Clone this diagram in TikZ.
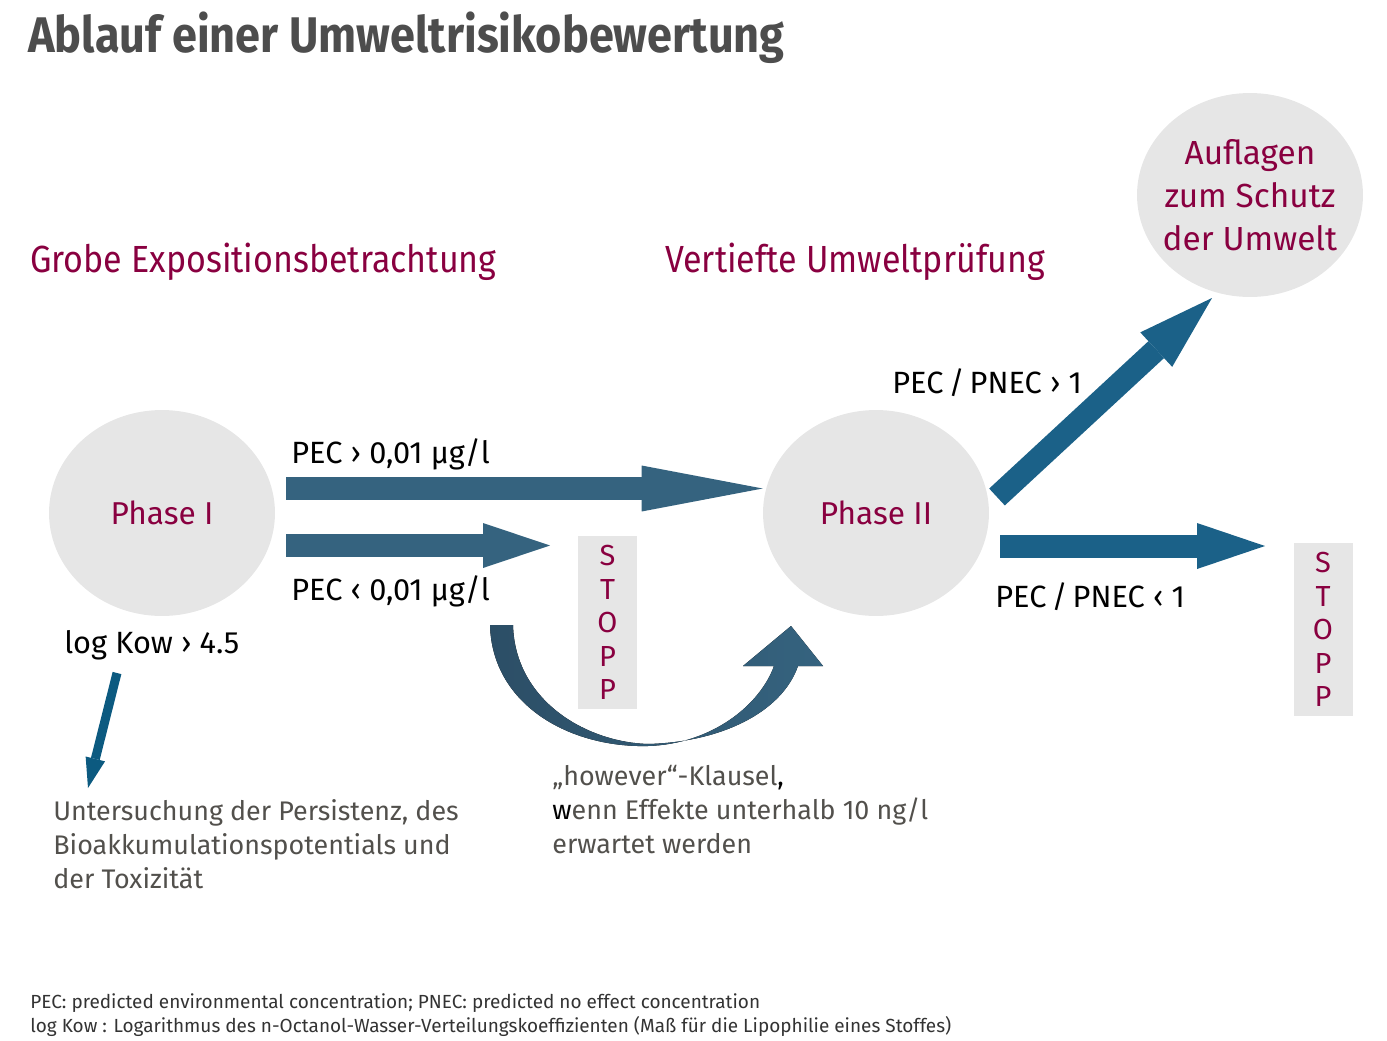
\documentclass[tikz,border=0pt]{standalone}
\usepackage{fontspec}
\setmainfont{Fira Sans}
\newfontfamily\titelfont{Fira Sans}[FakeStretch=0.9]
\newfontfamily\kopffont{Fira Sans}[FakeStretch=0.9]
\usetikzlibrary{arrows.meta,shapes.geometric}

\definecolor{umwrot}{RGB}{137,0,64}
\definecolor{kreisgrau}{RGB}{230,230,230}
\definecolor{titelgrau}{RGB}{77,77,77}
\definecolor{textgrau}{RGB}{82,80,76}
\definecolor{pfeilblau}{RGB}{53,99,127}
\definecolor{pfeildunkel}{RGB}{44,78,102}
\definecolor{phaseblau}{RGB}{27,97,136}
\definecolor{kowblau}{RGB}{12,90,128}

\tikzset{
	kreis/.style={ellipse,fill=kreisgrau,minimum width=4.52cm,minimum height=4.12cm,inner sep=0pt,text=umwrot,font=\fontsize{18}{22}\selectfont},
	stopp/.style={rectangle,fill=kreisgrau,minimum width=1.18cm,minimum height=3.46cm,inner sep=0pt,text=umwrot,align=center,font=\fontsize{16.5}{19}\selectfont},
	kopf/.style={anchor=base west,inner sep=0pt,text=umwrot,font=\kopffont\fontsize{21.5}{26}\selectfont},
	beschriftung/.style={anchor=base west,inner sep=0pt,font=\fontsize{17.5}{20}\selectfont},
	erklaerung/.style={anchor=north west,inner sep=0pt,align=left,text=textgrau,font=\fontsize{15.3}{19.3}\selectfont},
	pfeil/.style={line width=0.46cm,draw=pfeilblau},
}

\begin{document}
\begin{tikzpicture}[x=0.02cm,y=-0.02cm]
	\useasboundingbox (0,0) rectangle (1387,1041);
	
	\node[anchor=base west,inner sep=0pt,text=titelgrau,font=\titelfont\bfseries\fontsize{28.5}{32}\selectfont] (titel) at (28,52) {Ablauf einer Umweltrisikobewertung};
	\node[kopf] (grob) at (30,272) {Grobe Expositionsbetrachtung};
	\node[kopf] (vertieft) at (665,272) {Vertiefte Umweltprüfung};
	
	\node[kreis] (phase1) at (162,513) {Phase I};
	\node[kreis] (phase2) at (876,513) {Phase II};
	\node[kreis,minimum height=4.08cm,inner sep=-0.2cm,align=center,font=\fontsize{19}{24.4}\selectfont] (auflagen) at (1250,195) {Auflagen\\zum Schutz\\der Umwelt};
	\node[stopp] (stopp1) at (607.5,622.5) {S\\T\\O\\P\\P};
	\node[stopp] (stopp2) at (1323,629.5) {S\\T\\O\\P\\P};
	
	\node[beschriftung] (pecgross) at (291,463) {PEC › 0,01 µg/l};
	\node[beschriftung] (pecklein) at (291,600) {PEC ‹ 0,01 µg/l};
	\node[beschriftung] (pnecgross) at (892,393) {PEC\,/\,PNEC › 1};
	\node[beschriftung] (pnecklein) at (995,607) {PEC\,/\,PNEC ‹ 1};
	\node[beschriftung] (kow) at (64,653) {log Kow › 4.5};
	
	\node[erklaerung] (untersuchung) at (53,799) {Untersuchung der Persistenz, des\\Bioakkumulationspotentials und\\der Toxizität};
	\node[erklaerung] (however) at (552,765) {„however“-Klausel{\color{black},}\\{\color{black}w}enn Effekte unterhalb 10 ng/l\\erwartet werden};
	
	\node[anchor=north west,inner sep=0pt,align=left,text=black!80,font=\fontsize{10.8}{13.6}\selectfont] (fussnote) at (30,993) {PEC: predicted environmental concentration; PNEC: predicted no effect concentration\\log Kow : Logarithmus des n-Octanol-Wasser-Verteilungskoeffizienten (Maß für die Lipophilie eines Stoffes)};
	
	% Pfeile Phase I
	\coordinate (a1) at (286,488.5);
	\coordinate (a2) at (286,545.5);
	\coordinate (a2e) at (550,545.5);
	\draw[pfeil,-{Triangle[length=2.42cm,width=0.92cm,line width=0pt]}] (a1) -- (phase2.west |- a1);
	\draw[pfeil,-{Triangle[length=1.34cm,width=0.9cm,line width=0pt]}] (a2) -- (a2e);
	
	% however-Bogen
	\fill[left color=pfeildunkel,right color=pfeilblau]
		(490,625) .. controls (492,705) and (570,748) .. (648,746)
		.. controls (712,744) and (760,705) .. (774,666)
		-- (743,666) -- (791,626) -- (823,666) -- (798,666)
		.. controls (782,712) and (722,742) .. (648,744)
		.. controls (585,742) and (515,700) .. (513,625) -- cycle;
	
	% Pfeile Phase II
	\coordinate (b1) at (997,497);
	\coordinate (b1e) at (1212,298);
	\coordinate (b2) at (1000,546);
	\coordinate (b2e) at (1265,546);
	\draw[pfeil,draw=phaseblau,-{Triangle[length=1.52cm,width=0.94cm,line width=0pt]}] (b1) -- (b1e);
	\draw[pfeil,draw=phaseblau,-{Triangle[length=1.36cm,width=0.92cm,line width=0pt]}] (b2) -- (b2e);
	
	% log Kow
	\coordinate (k1) at (117,673);
	\coordinate (k1e) at (88,788);
	\draw[line width=0.18cm,draw=kowblau,-{Triangle[length=0.6cm,width=0.4cm,line width=0pt]}] (k1) -- (k1e);
	
\end{tikzpicture}
\end{document}
